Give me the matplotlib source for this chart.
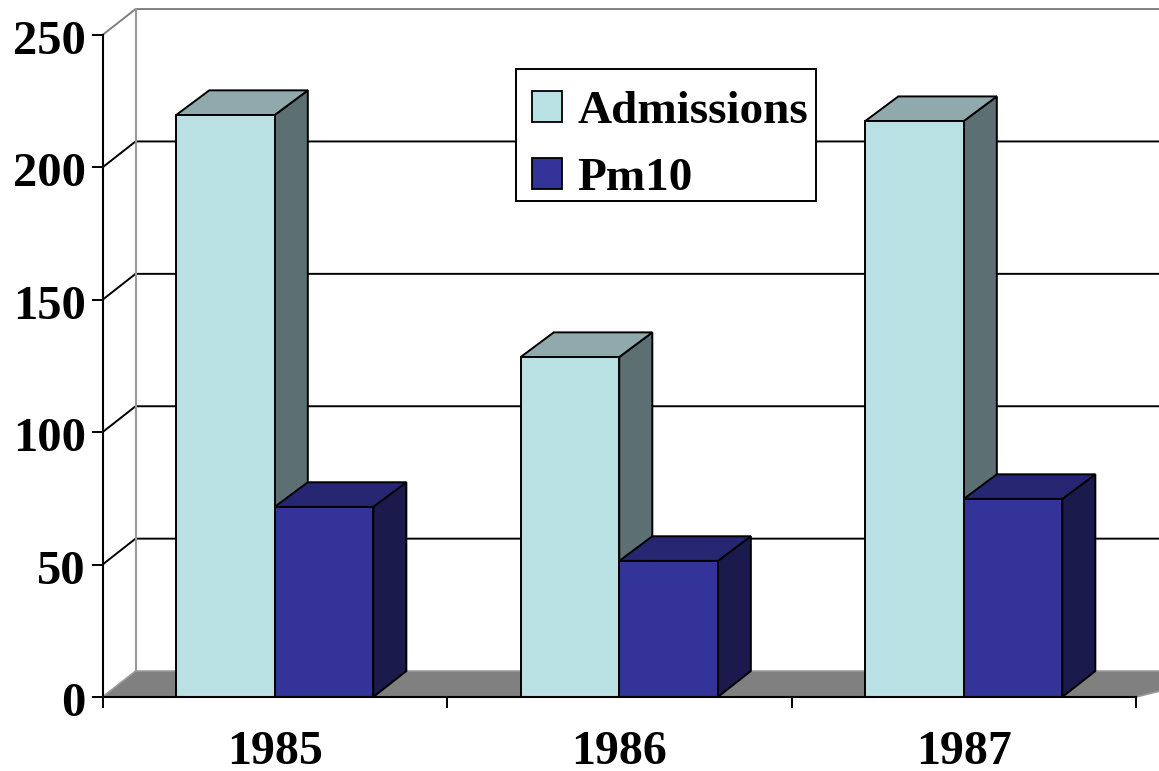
"""
3D looking bar chart of admissions and pm10 per year
"""

import numpy as np
import matplotlib
matplotlib.use('Agg')
import matplotlib.pyplot as plt
from matplotlib.patches import Patch, Rectangle
from matplotlib.transforms import ScaledTranslation

plt.rcParams['font.family'] = ['Liberation Serif', 'DejaVu Serif']
plt.rcParams['font.weight'] = 'bold'

# values
years = ['1985', '1986', '1987']
admissions = [219.8, 128.4, 217.5]
pm10 = [71.8, 51.4, 74.8]
y_ticks = [0, 50, 100, 150, 200, 250]

# depth of the fake 3D, in data units
DX = 0.096
DY = 9.8
BAR_DY = 9.3
BAR_W = 0.286

# face, top, side colours
ADM_COLS = ('#B9E0E3', '#8FA9AD', '#5C6F72')
PM_COLS = ('#333399', '#262673', '#1A1A4D')

fig = plt.figure(figsize=(11.59, 7.71), dpi=100)
ax = fig.add_axes([102.5 / 1159, 74 / 771, 1033.5 / 1159, 662 / 771])
ax.set_xlim(0, 3)
ax.set_ylim(0, 250)


def poly(xs, ys, col, z):
    ax.fill(xs, ys, facecolor=col, edgecolor='black', linewidth=1.4, clip_on=False, zorder=z)


def bar3d(x, val, cols, z):
    # side, then top, then front
    poly([x + BAR_W, x + BAR_W + DX, x + BAR_W + DX, x + BAR_W],
         [0, DY, val + BAR_DY, val], cols[2], z)
    poly([x, x + DX, x + BAR_W + DX, x + BAR_W],
         [val, val + BAR_DY, val + BAR_DY, val], cols[1], z)
    poly([x, x + BAR_W, x + BAR_W, x], [0, 0, val, val], cols[0], z)


# floor
ax.fill([0, DX, 3.3, 3], [0, DY, DY, 0], facecolor='#808080', edgecolor='#999999',
        linewidth=1.2, clip_on=False, zorder=1)

# back wall and grid lines
for t in y_ticks[1:]:
    col = 'black' if t < 250 else '#808080'
    ax.plot([0, DX, 3.3], [t, t + DY, t + DY], color=col, linewidth=1.4, clip_on=False, zorder=1)
ax.plot([DX, DX], [DY, 250 + DY], color='#999999', linewidth=1.5, clip_on=False, zorder=1)

# bars
for i in range(len(years)):
    x_adm = i + 0.5 - BAR_W
    bar3d(x_adm, admissions[i], ADM_COLS, 3 + i * 2)
    bar3d(i + 0.5, pm10[i], PM_COLS, 4 + i * 2)

# axes, only left and bottom lines
ax.patch.set_visible(False)
ax.spines['top'].set_visible(False)
ax.spines['right'].set_visible(False)
for s in ['left', 'bottom']:
    ax.spines[s].set_linewidth(1.5)
    ax.spines[s].set_zorder(20)

ax.set_yticks(y_ticks)
ax.tick_params(axis='y', labelsize=35, length=8, width=1.4, pad=4)
ax.set_xticks([0, 1, 2, 3])
ax.set_xticklabels([])
ax.set_xticks(np.arange(3) + 0.5, labels=years, minor=True)
ax.tick_params(axis='x', which='major', length=8, width=1.4)
ax.tick_params(axis='x', which='minor', length=0, labelsize=34.5, pad=24)

# y labels sit a bit below their ticks
for lab in ax.get_yticklabels():
    lab.set_transform(lab.get_transform() + ScaledTranslation(0, -1.5 / 72, fig.dpi_scale_trans))

# legend frame is separate, the padding in the reference is not even
ax.add_patch(Rectangle((516 / 1159, (771 - 201) / 771), 300 / 1159, 132 / 771,
                       transform=fig.transFigure, facecolor='white', edgecolor='black',
                       linewidth=1.4, clip_on=False, zorder=29))
handles = [Patch(facecolor=ADM_COLS[0], edgecolor='black', linewidth=1.3, label='Admissions'),
           Patch(facecolor=PM_COLS[0], edgecolor='black', linewidth=1.3, label='Pm10')]
leg = ax.legend(handles=handles, loc='upper left',
                bbox_to_anchor=(532 / 1159, (771 - 91) / 771),
                bbox_transform=fig.transFigure,
                fontsize=34, frameon=False,
                handlelength=0.635, handleheight=0.635, handletextpad=0.33,
                borderaxespad=0, borderpad=0, labelspacing=0.53)
leg.set_zorder(30)

fig.savefig('out.png', dpi=100)
